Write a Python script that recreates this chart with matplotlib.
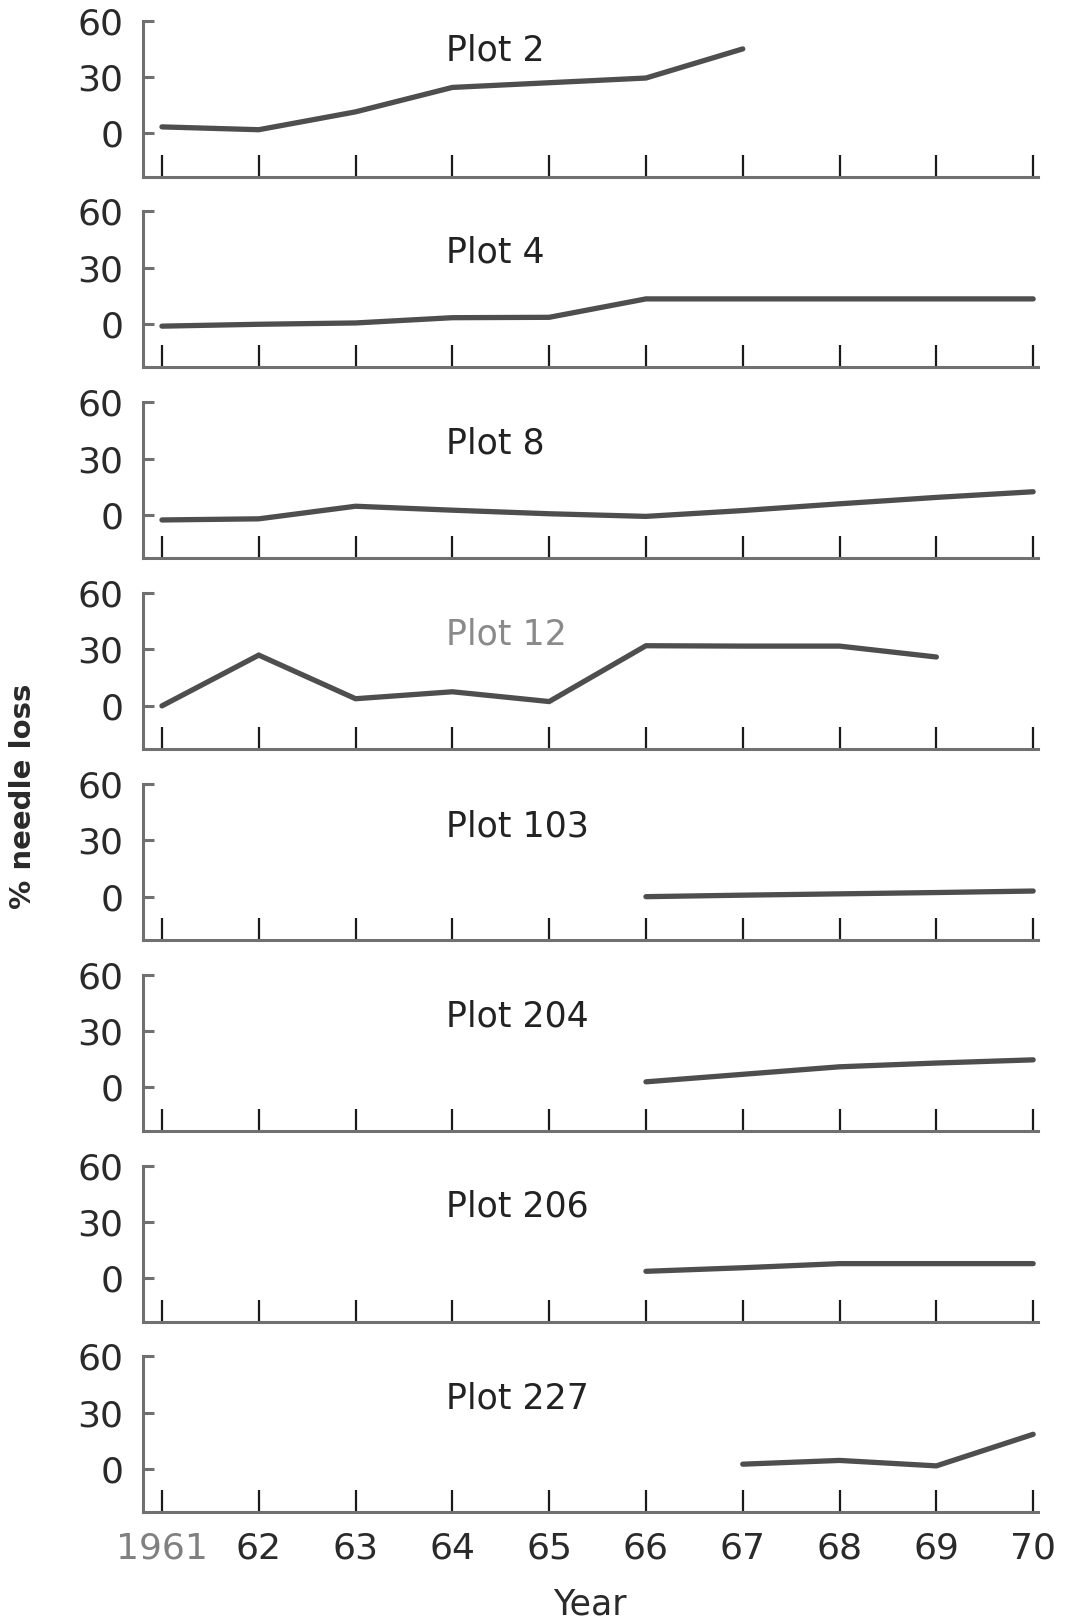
import matplotlib

matplotlib.use("Agg")
import matplotlib.pyplot as plt

# % needle loss per plot
YEARS = [1961, 1962, 1963, 1964, 1965, 1966, 1967, 1968, 1969, 1970]
YEAR_LABELS = ["1961", "62", "63", "64", "65", "66", "67", "68", "69", "70"]

plot_names = ["Plot 2", "Plot 4", "Plot 8", "Plot 12",
              "Plot 103", "Plot 204", "Plot 206", "Plot 227"]

plot2_years = [1961, 1962, 1963, 1964, 1965, 1966, 1967]
plot2_loss = [3.5, 2, 11.5, 24.5, 27, 29.5, 45]

plot4_years = [1961, 1962, 1963, 1964, 1965, 1966, 1967, 1968, 1969, 1970]
plot4_loss = [-1, 0, 0.7, 3.5, 3.7, 13.5, 13.5, 13.5, 13.5, 13.5]

plot8_years = [1961, 1962, 1963, 1964, 1965, 1966, 1967, 1968, 1969, 1970]
plot8_loss = [-2.6, -2, 4.7, 2.6, 0.7, -0.7, 2.4, 6, 9.4, 12.4]

plot12_years = [1961, 1962, 1963, 1964, 1965, 1966, 1967, 1968, 1969]
plot12_loss = [0, 27, 3.8, 7.5, 2.3, 32, 31.8, 31.8, 26]

plot103_years = [1966, 1967, 1968, 1969, 1970]
plot103_loss = [0, 0.8, 1.5, 2.2, 3]

plot204_years = [1966, 1967, 1968, 1969, 1970]
plot204_loss = [3, 7, 11, 13, 14.7]

plot206_years = [1966, 1967, 1968, 1969, 1970]
plot206_loss = [3.7, 5.6, 7.8, 7.8, 7.8]

plot227_years = [1967, 1968, 1969, 1970]
plot227_loss = [2.6, 4.6, 1.7, 18.5]

series = [(plot2_years, plot2_loss), (plot4_years, plot4_loss),
          (plot8_years, plot8_loss), (plot12_years, plot12_loss),
          (plot103_years, plot103_loss), (plot204_years, plot204_loss),
          (plot206_years, plot206_loss), (plot227_years, plot227_loss)]

W, H = 1066, 1619
fig = plt.figure(figsize=(W / 100, H / 100), dpi=100)
plt.rcParams["font.family"] = "DejaVu Sans"

LINE = "#4e4e4e"
SPINE = "#707070"
left_px, right_px = 142.6, 1038
panel_h = 156
title_y = [44, 38, 38, 38, 37.5, 38, 38, 37.5]

for i, (name, (xs, ys)) in enumerate(zip(plot_names, series)):
    top = 20.7 + i * 190.8
    ax = fig.add_axes([left_px / W, 1 - (top + panel_h) / H,
                       (right_px - left_px) / W, panel_h / H])
    ax.plot(xs, ys, color=LINE, lw=3.8, solid_capstyle="round",
            solid_joinstyle="miter")
    ax.set_xlim(1960.8, 1970.05)
    ax.set_ylim(-23, 60)
    for s in ("top", "right"):
        ax.spines[s].set_visible(False)
    for s in ("left", "bottom"):
        ax.spines[s].set_color(SPINE)
        ax.spines[s].set_linewidth(2.2)
    ax.set_yticks([0, 30, 60])
    ax.tick_params(axis="y", direction="in", length=8, width=2.2,
                   color=SPINE, labelsize=26, pad=14, labelcolor="#2a2a2a")
    ax.set_xticks(YEARS)
    ax.tick_params(axis="x", direction="in", length=16, width=1.6,
                   color="#1a1a1a", labelsize=26, pad=14, labelcolor="#2a2a2a")
    if i < len(plot_names) - 1:
        ax.set_xticklabels([])
    else:
        ax.set_xticklabels(YEAR_LABELS)
        ax.get_xticklabels()[0].set_color("#808080")
        ax.set_xlabel("Year", fontsize=25, labelpad=16, color="#2a2a2a")
    ax.text(1963.93, title_y[i], name, fontsize=25, ha="left", va="center",
            color="#8a8a8a" if name == "Plot 12" else "#222222")

fig.text(0.0215, 0.508, "% needle loss", rotation=90, fontsize=21,
         fontweight="bold", ha="center", va="center", color="#2a2a2a")

fig.savefig("out.png", dpi=100)
